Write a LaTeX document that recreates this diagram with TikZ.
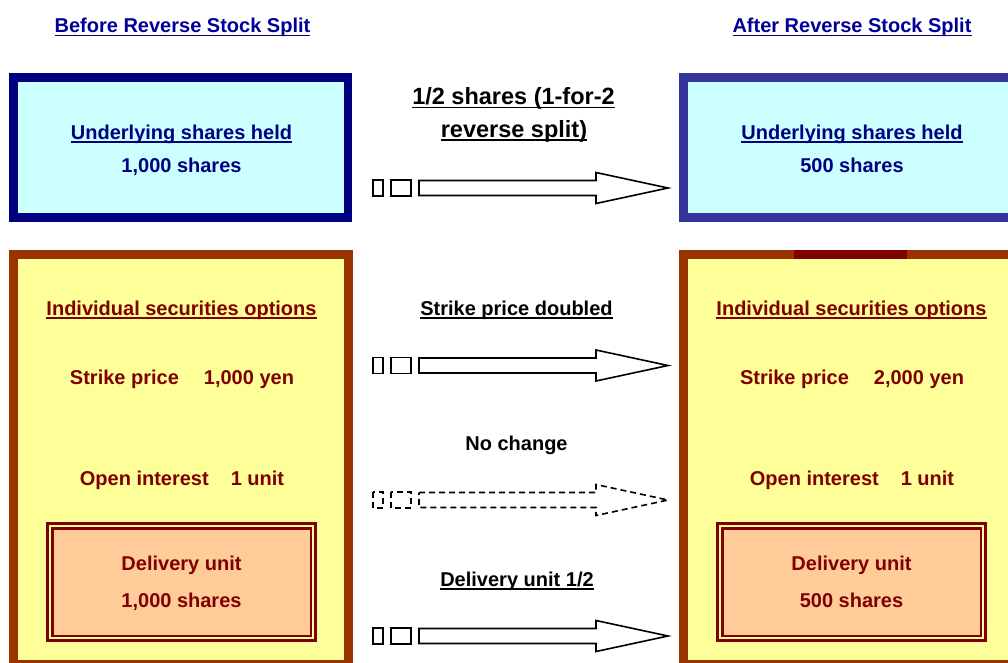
\documentclass[tikz,border=0pt]{standalone}
\usepackage{fontspec}
\setmainfont{Liberation Sans}
\definecolor{navy}{HTML}{000080}
\definecolor{headblue}{HTML}{000099}
\definecolor{boxblueR}{HTML}{333399}
\definecolor{cyanfill}{HTML}{CCFFFF}
\definecolor{brownline}{HTML}{993300}
\definecolor{yellowfill}{HTML}{FFFF99}
\definecolor{darkred}{HTML}{800000}
\definecolor{peach}{HTML}{FFCC99}
\newcommand\myul[1]{\setbox0\hbox{#1}\leavevmode\rlap{\rule[-3.8pt]{\wd0}{1.6pt}}\box0}
\newcommand\blockarr[2]{%
  \draw[#2] (373,#1-8) rectangle (383,#1+8);
  \draw[#2] (391,#1-8) rectangle (411,#1+8);
  \draw[#2] (419,#1-7.5) -- (596,#1-7.5) -- (596,#1-15.5) -- (668,#1)
     -- (596,#1+15.5) -- (596,#1+7.5) -- (419,#1+7.5) -- cycle;}
\tikzset{
  txt/.style={font=\bfseries\fontsize{20}{24}\selectfont, anchor=base, inner sep=0pt},
  bigtxt/.style={txt, font=\bfseries\fontsize{23.5}{28}\selectfont},
  bluetxt/.style={txt, text=navy},
  redtxt/.style={txt, text=darkred},
  blacktxt/.style={txt, text=black},
  arr/.style={draw=black, fill=white, line width=1.6pt, line join=miter},
  dasharr/.style={arr, dash pattern=on 6pt off 4pt},
  topboxL/.style={draw=navy, fill=cyanfill, line width=8.5pt},
  topboxR/.style={draw=boxblueR, fill=cyanfill, line width=8.5pt},
  optbox/.style={draw=brownline, fill=yellowfill, line width=9pt},
  delout/.style={draw=darkred, line width=3pt},
  delin/.style={draw=darkred, fill=peach, line width=2.5pt},
}
\begin{document}
\begin{tikzpicture}[x=1pt,y=-1pt]
\useasboundingbox (0,0) rectangle (1008,662);
\clip (0,0) rectangle (1008,662);
\fill[white] (0,0) rectangle (1008,662);

% headings
\node[txt, text=headblue] (hbefore) at (182.5,32.3) {\myul{Before Reverse Stock Split}};
\node[txt, text=headblue] (hafter) at (852,32.3) {\myul{After Reverse Stock Split}};

% top boxes
\draw[topboxL] (13.25,77.5) rectangle (347.75,217.5);
\draw[topboxR] (683.25,77.5) rectangle (1012,217.5);
\node[bluetxt] (ushL) at (181.5,139) {\myul{Underlying shares held}};
\node[bluetxt] (ushLv) at (181.5,172) {1,000 shares};
\node[bluetxt] (ushR) at (852,139) {\myul{Underlying shares held}};
\node[bluetxt] (ushRv) at (852,172) {500 shares};

% option boxes
\draw[optbox] (13,254.5) rectangle (348,664.5);
\draw[optbox] (683,254.5) rectangle (1013,664.5);
\fill[darkred] (794,250) rectangle (907,259);

\node[redtxt] (isoL) at (181.5,315) {\myul{Individual securities options}};
\node[redtxt] (isoR) at (851.5,315) {\myul{Individual securities options}};
\node[redtxt] (spL) at (182,384) {Strike price\hspace{25pt}1,000 yen};
\node[redtxt] (spR) at (852,384) {Strike price\hspace{25pt}2,000 yen};
\node[redtxt] (oiL) at (182,485) {Open interest\hspace{22pt}1 unit};
\node[redtxt] (oiR) at (852,485) {Open interest\hspace{22pt}1 unit};

% delivery boxes
\draw[delout] (47.5,523.5) rectangle (315.5,640.5);
\draw[delin] (52.25,528.25) rectangle (310.75,635.75);
\draw[delout] (717.5,523.5) rectangle (985.5,640.5);
\draw[delin] (722.25,528.25) rectangle (980.75,635.75);
\node[redtxt] (duL) at (181.5,570.7) {Delivery unit};
\node[redtxt] (duLv) at (181.5,607.3) {1,000 shares};
\node[redtxt] (duR) at (851.5,570.7) {Delivery unit};
\node[redtxt] (duRv) at (851.5,607.3) {500 shares};

% middle labels
\node[blacktxt, bigtxt] (m1a) at (513.5,104.3) {\myul{1/2 shares (1-for-2}};
\node[blacktxt, bigtxt] (m1b) at (514,137) {\myul{reverse split)}};
\node[blacktxt] (m2) at (516.5,315) {\myul{Strike price doubled}};
\node[blacktxt] (m3) at (516.5,450) {No change};
\node[blacktxt] (m4) at (517,586) {\myul{Delivery unit 1/2}};

% block arrows
\blockarr{188}{arr}
\blockarr{365.5}{arr}
\blockarr{500}{dasharr}
\blockarr{636}{arr}
\end{tikzpicture}
\end{document}
